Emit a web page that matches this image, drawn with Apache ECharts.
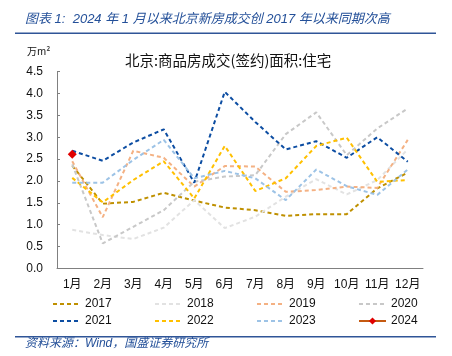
<!DOCTYPE html>
<html>
<head>
<meta charset="utf-8">
<script src="https://cdn.jsdelivr.net/npm/echarts@6/dist/echarts.min.js"></script>
<style>
html,body{margin:0;padding:0;background:#fff;}
#c{width:452px;height:356px;}
</style>
</head>
<body>
<div id="c"></div>
<script>
var months = ['1月','2月','3月','4月','5月','6月','7月','8月','9月','10月','11月','12月'];
var y2017 = [2.35,1.48,1.52,1.73,1.55,1.39,1.33,1.20,1.24,1.24,1.83,2.19];
var y2018 = [0.88,0.76,0.67,0.93,1.56,0.92,1.18,1.64,2.04,1.69,2.02,2.72];
var y2019 = [2.45,1.17,2.69,2.53,1.87,2.34,2.33,1.75,1.79,1.87,1.84,2.94];
var y2020 = [2.38,0.57,0.95,1.33,1.98,2.10,2.13,3.07,3.57,2.59,3.20,3.66];
var y2021 = [2.69,2.46,2.88,3.18,1.96,4.04,3.35,2.72,2.91,2.53,3.00,2.44];
var y2022 = [2.07,1.51,2.02,2.45,1.60,2.80,1.77,2.06,2.80,2.99,1.98,2.02];
var y2023 = [1.96,1.96,2.48,2.94,2.06,2.23,2.06,1.56,2.26,1.88,1.68,2.26];
var y2024 = [2.61];
var yTicks = [0,0.5,1,1.5,2,2.5,3,3.5,4,4.5];

var font = 'Liberation Sans, Arial, Noto Sans CJK SC, sans-serif';
function dashed(name, data, color){
  return {name:name, type:'line', data:data, symbol:'none', smooth:false,
    lineStyle:{color:color, width:2, type:[4,3]}, itemStyle:{color:color}};
}
var series = [
  dashed('2017', y2017, '#bf9000'),
  dashed('2018', y2018, '#e2e2e2'),
  dashed('2019', y2019, '#f4b183'),
  dashed('2020', y2020, '#c8c8c8'),
  dashed('2021', y2021, '#0c4da2'),
  dashed('2022', y2022, '#ffc000'),
  dashed('2023', y2023, '#9dc3e6'),
  {name:'2024', type:'line', data:y2024, symbol:'diamond', symbolSize:9, showSymbol:true,
   lineStyle:{color:'#c55a11', width:2}, itemStyle:{color:'#e00000'}}
];
function li(name){ return {name:name, itemStyle:{opacity:0}}; }
var legendBase = {orient:'horizontal', left:47, itemWidth:27, itemHeight:9, itemGap:42.3,
  textStyle:{fontSize:12, color:'#111', fontFamily:font}};
var chart = echarts.init(document.getElementById('c'), null, {renderer:'canvas'});
chart.setOption({
  animation:false,
  backgroundColor:'#fff',
  title:{text:'北京:商品房成交(签约)面积:住宅', left:120, top:48,
    textStyle:{fontSize:14.5, fontWeight:'normal', color:'#111', fontFamily:'Noto Sans CJK SC, sans-serif'}},
  legend:[
    Object.assign({}, legendBase, {top:293, data:[li('2017'),li('2018'),li('2019'),li('2020')]}),
    Object.assign({}, legendBase, {top:310, data:[li('2021'),li('2022'),li('2023'),'2024']})
  ],
  grid:{left:57, right:29, top:71.7, bottom:87.7, containLabel:false},
  xAxis:{type:'category', data:months, boundaryGap:true,
    axisLine:{lineStyle:{color:'#808080', width:1}},
    axisTick:{show:false},
    axisLabel:{color:'#111', fontSize:12, margin:10, fontFamily:font, interval:0}},
  yAxis:{type:'value', min:yTicks[0], max:yTicks[yTicks.length-1], interval:0.5,
    axisLine:{show:true, lineStyle:{color:'#808080', width:1}},
    axisTick:{show:true, inside:true, length:3, lineStyle:{color:'#808080'}},
    splitLine:{show:false},
    axisLabel:{color:'#111', fontSize:12, margin:14, fontFamily:font,
      formatter:function(v){return v.toFixed(1);}}},
  graphic:[
    {type:'text', left:25, top:13, style:{text:'图表 1:  2024 年 1 月以来北京新房成交创 2017 年以来同期次高',
      fill:'#245099', font:'italic 13px "Liberation Sans", "Noto Sans CJK SC", sans-serif'}},
    {type:'rect', shape:{x:15, y:32.5, width:421, height:1.6}, style:{fill:'#2f5597'}},
    {type:'text', left:27, top:46, style:{text:'万m²', fill:'#111', font:'10px "Noto Sans CJK SC", sans-serif'}},
    {type:'rect', shape:{x:15, y:336, width:421, height:1.6}, style:{fill:'#2f5597'}},
    {type:'text', left:25, top:338, style:{text:'资料来源：Wind，国盛证券研究所',
      fill:'#245099', font:'italic 12px "Liberation Sans", "Noto Sans CJK SC", sans-serif'}}
  ],
  series:series
});
</script>
</body>
</html>
